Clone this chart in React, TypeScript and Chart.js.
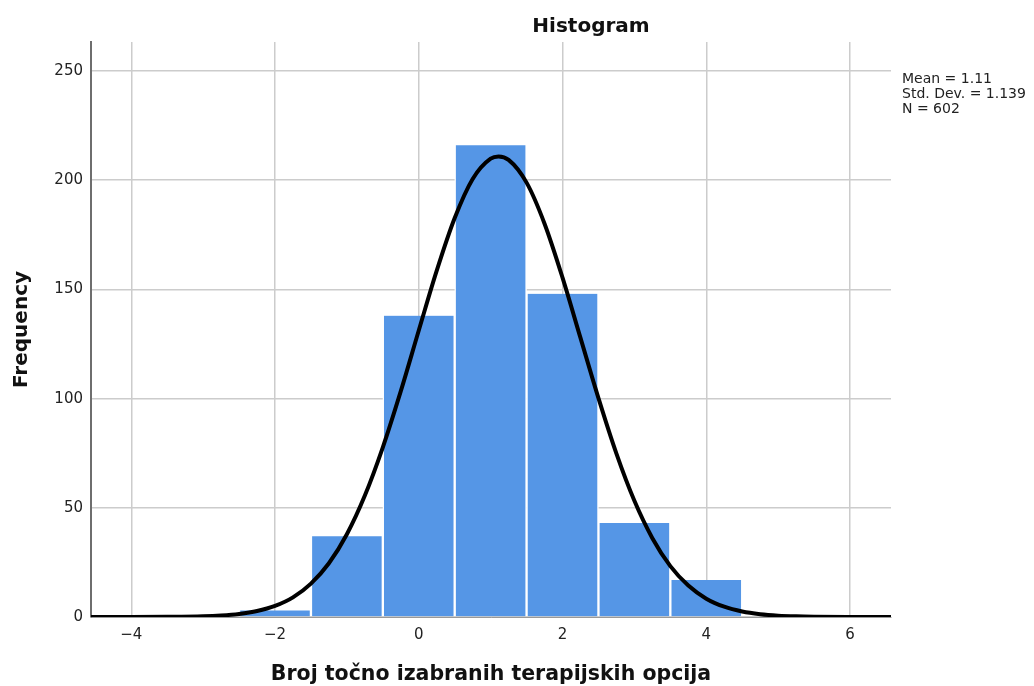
import React, { useEffect, useRef } from 'react';
import { Chart, registerables } from 'chart.js';

Chart.register(...registerables);

// Histogram bins (bin centres, width 1) and their frequencies
const binCenters = [-2, -1, 0, 1, 2, 3, 4];
const frequencies = [3, 37, 138, 216, 148, 43, 17];

// Fitted normal curve
const curveX = [-4.56, -4, -3.5, -3, -2.75, -2.5, -2.25, -2, -1.75, -1.5, -1.25, -1, -0.75, -0.5, -0.25, 0, 0.25, 0.5, 0.75, 1, 1.11, 1.25, 1.5, 1.75, 2, 2.25, 2.5, 2.75, 3, 3.25, 3.5, 3.75, 4, 4.25, 4.5, 4.75, 5, 5.25, 5.5, 6, 6.57];
const curveY = [0, 0, 0.06, 0.31, 0.68, 1.39, 2.72, 5.08, 9.0, 15.3, 24.6, 37.9, 55.6, 77.7, 103.4, 131.2, 158.6, 182.7, 200.6, 209.9, 210.9, 209.3, 198.9, 180.1, 155.4, 127.8, 100.2, 74.8, 53.2, 36.1, 23.3, 14.4, 8.4, 4.7, 2.5, 1.28, 0.62, 0.29, 0.13, 0.02, 0];

const xTickValues = [-4, -2, 0, 2, 4, 6];
const yTickValues = [0, 50, 100, 150, 200, 250];

const titleText = 'Histogram';
const xTitle = 'Broj točno izabranih terapijskih opcija';
const yTitle = 'Frequency';
const statsLines = ['Mean = 1.11', 'Std. Dev. = 1.139', 'N = 602'];

const FONT = '"DejaVu Sans", "Lucida Grande", sans-serif';

const textPlugin = {
  id: 'extraText',
  afterDraw(chart: any) {
    const ctx = chart.ctx;
    const area = chart.chartArea;
    ctx.save();
    ctx.fillStyle = '#111';
    ctx.font = `bold 20px ${FONT}`;
    ctx.textAlign = 'center';
    ctx.textBaseline = 'alphabetic';
    ctx.fillText(titleText, area.left + 500, 32);
    ctx.font = `14px ${FONT}`;
    ctx.textAlign = 'left';
    ctx.fillStyle = '#222';
    statsLines.forEach((s, i) => ctx.fillText(s, area.right + 11, 83 + i * 15));
    ctx.restore();
  },
};

export default function App() {
  const ref = useRef<HTMLCanvasElement | null>(null);

  useEffect(() => {
    if (!ref.current) return;
    const chart = new Chart(ref.current, {
      type: 'bar',
      data: {
        datasets: [
          {
            type: 'line',
            data: curveX.map((x, i) => ({ x, y: curveY[i] })),
            borderColor: '#000',
            borderWidth: 4,
            pointRadius: 0,
            cubicInterpolationMode: 'monotone',
            fill: false,
            order: 0,
          } as any,
          {
            type: 'bar',
            data: binCenters.map((x, i) => ({ x, y: frequencies[i] })),
            backgroundColor: '#5596e6',
            borderColor: '#ffffff',
            borderWidth: { left: 1.5, right: 1.5, top: 0, bottom: 0 },
            borderSkipped: false,
            barPercentage: 1,
            categoryPercentage: 1,
            order: 1,
          } as any,
        ],
      },
      options: {
        responsive: false,
        animation: false,
        layout: { padding: { left: 0, top: 42, right: 143, bottom: 0 } },
        plugins: {
          legend: { display: false },
          tooltip: { enabled: false },
          title: { display: false },
        },
        scales: {
          x: {
            type: 'linear',
            min: -4.56,
            max: 6.57,
            offset: false,
            grid: { color: '#cccccc', lineWidth: 1.5, drawTicks: false, offset: false },
            border: { display: true, color: '#999999', width: 1 },
            afterBuildTicks: (scale: any) => {
              scale.ticks = xTickValues.map((v) => ({ value: v }));
            },
            afterFit: (scale: any) => {
              scale.height = 69;
            },
            ticks: {
              padding: 9,
              color: '#222',
              font: { family: FONT, size: 15 },
              maxRotation: 0,
              callback: (v: any) => (Number(v) < 0 ? '\u2212' + Math.abs(Number(v)) : String(v)),
            },
            title: {
              display: true,
              text: xTitle,
              color: '#111',
              font: { family: FONT, size: 20.5, weight: 'bold', lineHeight: 1 },
              padding: { top: 0, bottom: 1 },
            },
          },
          y: {
            type: 'linear',
            min: 0,
            max: 263.3,
            grid: { color: '#cccccc', lineWidth: 1.5, drawTicks: false },
            border: { display: true, color: '#6e6e6e', width: 2 },
            afterBuildTicks: (scale: any) => {
              scale.ticks = yTickValues.map((v) => ({ value: v }));
            },
            afterFit: (scale: any) => {
              scale.width = 91;
            },
            ticks: {
              padding: 8,
              color: '#222',
              font: { family: FONT, size: 15 },
            },
            title: {
              display: true,
              text: yTitle,
              color: '#111',
              font: { family: FONT, size: 20, weight: 'bold', lineHeight: 1.2 },
              padding: { top: 10, bottom: 0 },
            },
          },
        },
      } as any,
      plugins: [textPlugin],
    });
    return () => chart.destroy();
  }, []);

  return (
    <div style={{ position: 'absolute', left: 0, top: 0, width: 1034, height: 686, background: '#fff' }}>
      <canvas ref={ref} width={1034} height={686} style={{ display: 'block' }} />
    </div>
  );
}
